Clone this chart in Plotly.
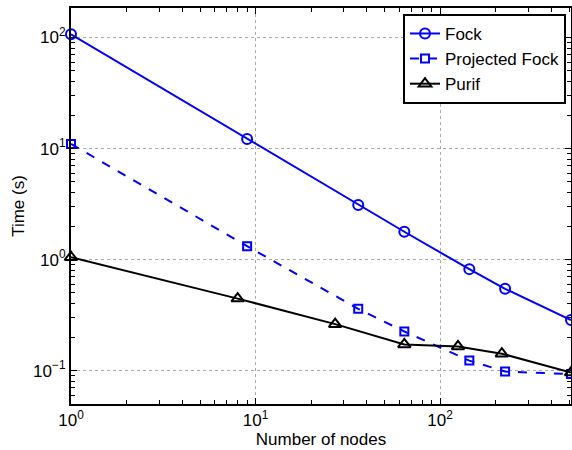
import plotly.graph_objects as go
import math

fock_nodes = [1, 9, 36, 64, 144, 225, 512]
fock_time = [107, 12.2, 3.1, 1.78, 0.82, 0.545, 0.285]
proj_nodes = [1, 9, 36, 64, 144, 225, 512]
proj_time = [11.0, 1.32, 0.36, 0.225, 0.123, 0.098, 0.093]
purif_nodes = [1, 8, 27, 64, 125, 216, 512]
purif_time = [1.05, 0.445, 0.262, 0.172, 0.165, 0.142, 0.096]

x_tickvals = [1, 10, 100]
x_ticktext = ["10<sup>0</sup>", "10<sup>1</sup>", "10<sup>2</sup>"]
y_tickvals = [0.1, 1, 10, 100]
y_ticktext = ["10<sup>\u22121</sup>", "10<sup>0</sup>", "10<sup>1</sup>", "10<sup>2</sup>"]

x_minor = [m * 10 ** e for e in range(0, 3) for m in range(2, 10)]
y_minor = [m * 10 ** e for e in range(-2, 3) for m in range(2, 10)]

x_range = [0, math.log10(512)]
y_range = [math.log10(0.05), 2.266]

fig = go.Figure()
fig.add_trace(go.Scatter(x=fock_nodes, y=fock_time, name="Fock", mode="lines+markers",
                         line=dict(color="#0000ff", width=2),
                         marker=dict(symbol="circle-open", size=10, line=dict(width=2, color="#0000ff")),
                         cliponaxis=False))
fig.add_trace(go.Scatter(x=proj_nodes, y=proj_time, name="Projected Fock", mode="lines+markers",
                         line=dict(color="#0000ff", width=2, dash="dash"),
                         marker=dict(symbol="square-open", size=8, line=dict(width=2, color="#0000ff")),
                         cliponaxis=False))
fig.add_trace(go.Scatter(x=purif_nodes, y=purif_time, name="Purif", mode="lines+markers",
                         line=dict(color="black", width=2),
                         marker=dict(symbol="triangle-up-open", size=11, line=dict(width=2, color="black")),
                         cliponaxis=False))

axis_common = dict(
    showline=True, linecolor="black", linewidth=2, mirror="ticks",
    ticks="inside", ticklen=6, tickcolor="black", tickwidth=1,
    showgrid=True, gridcolor="#aaaaaa", griddash="dot", gridwidth=1,
    zeroline=False, automargin=False,
    tickfont=dict(size=17, color="black"),
)

minor_common = dict(ticks="inside", ticklen=4, tickcolor="black", tickwidth=1,
                    showticklabels=False, showgrid=False, zeroline=False,
                    showline=True, linecolor="black", linewidth=2, mirror="ticks",
                    automargin=False)

fig.update_layout(
    xaxis=dict(type="log", range=x_range, tickmode="array",
               tickvals=x_tickvals, ticktext=x_ticktext,
               title=dict(text="Number of nodes", font=dict(size=17, color="black"), standoff=0),
               **axis_common),
    yaxis=dict(type="log", range=y_range, tickmode="array",
               tickvals=y_tickvals, ticktext=y_ticktext,
               title=dict(text="Time (s)", font=dict(size=17, color="black"), standoff=4),
               **axis_common),
    xaxis2=dict(type="log", range=x_range, overlaying="x", side="bottom", anchor="y2",
                tickmode="array", tickvals=x_minor, **minor_common),
    yaxis2=dict(type="log", range=y_range, overlaying="y", side="left", anchor="x2",
                tickmode="array", tickvals=y_minor, **minor_common),
)

# invisible helper trace so the overlay (minor tick) axes are drawn
fig.add_trace(go.Scatter(x=[fock_nodes[0]], y=[fock_time[0]], xaxis="x2", yaxis="y2",
                         mode="markers", marker=dict(opacity=0), showlegend=False,
                         hoverinfo="skip"))

fig.update_layout(
    width=572, height=450,
    margin=dict(l=71, r=1, t=8, b=46),
    plot_bgcolor="white", paper_bgcolor="white",
    font=dict(family="Liberation Sans, Arial, sans-serif", color="black"),
    legend=dict(x=0.99, y=0.985, xanchor="right", yanchor="top",
                bgcolor="white", bordercolor="black", borderwidth=2,
                font=dict(size=17), tracegroupgap=0, itemwidth=30),
    showlegend=True,
)

fig.write_html("out.html", post_script="document.body.style.margin='0';",
               config={"displayModeBar": False})
